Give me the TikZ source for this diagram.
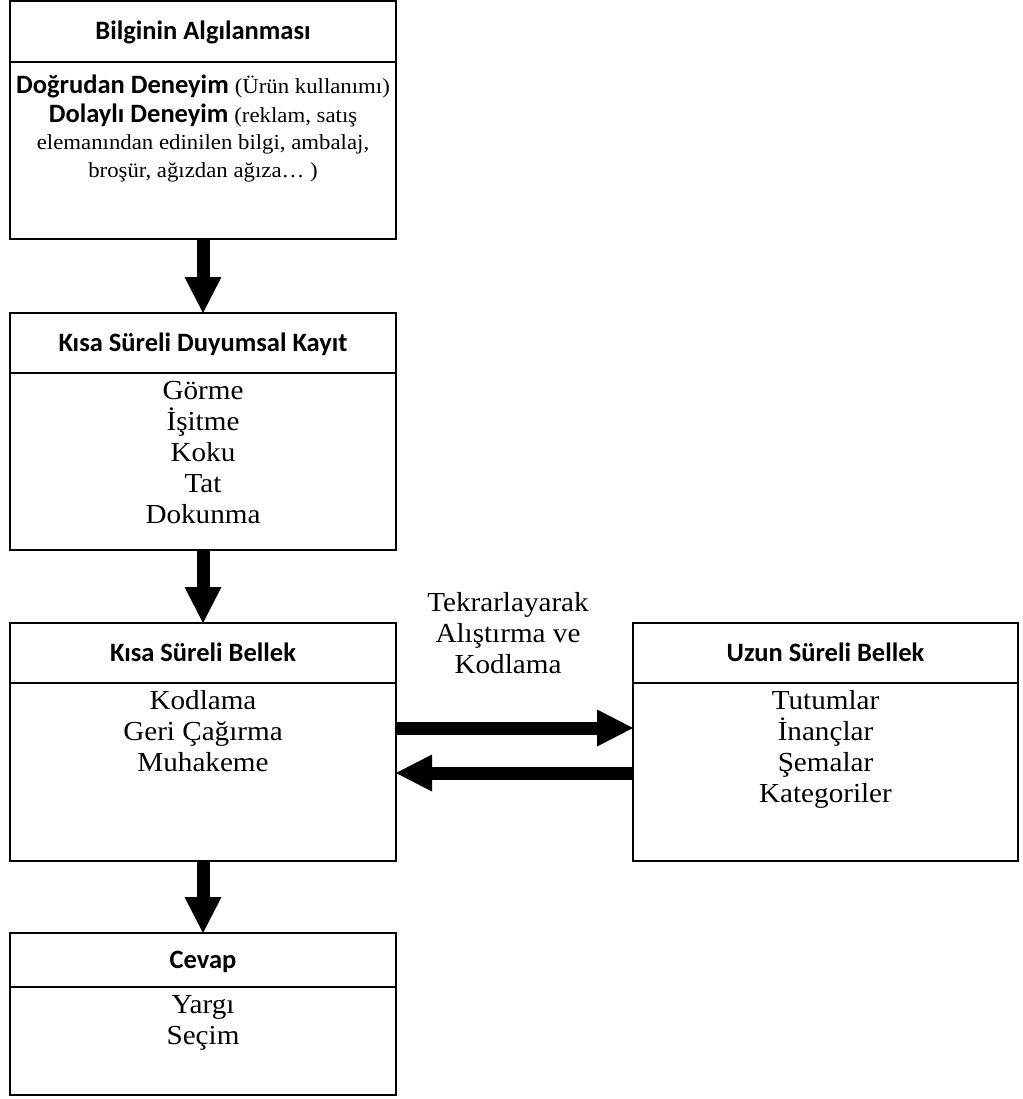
\documentclass[tikz,border=0pt]{standalone}
\usepackage{fontspec}
\setmainfont{Liberation Serif}[FakeStretch=1.06]
\newfontfamily\headfont{Carlito}
\usetikzlibrary{arrows.meta}

\begin{document}
\begin{tikzpicture}[x=1pt,y=-1pt,
  panel/.style={draw, line width=2pt, inner sep=0pt, outer sep=0pt, anchor=north west},
  rule/.style={line width=2pt},
  head/.style={inner sep=0pt, anchor=base, font=\headfont\bfseries\fontsize{26.5}{31}\selectfont},
  item/.style={inner sep=0pt, anchor=base, font=\fontsize{27.5}{31}\selectfont},
  small/.style={inner sep=0pt, anchor=base, font=\fontsize{21.5}{28}\selectfont},
  bigarrow/.style={line width=13pt, -{Triangle[width=37pt,length=36pt,line width=0pt]}}
]
\useasboundingbox (0,0) rectangle (1022,1099);

% boxes
\node[panel, minimum width=386pt, minimum height=238pt] (algi)  at (10,1)   {};
\node[panel, minimum width=386pt, minimum height=237pt] (duyu)  at (10,313) {};
\node[panel, minimum width=386pt, minimum height=238pt] (kisa)  at (10,623) {};
\node[panel, minimum width=385pt, minimum height=238pt] (uzun)  at (633,623) {};
\node[panel, minimum width=386pt, minimum height=162pt] (cevap) at (10,933) {};

% header rules
\draw[rule] ([yshift=-61pt]algi.north west)  -- ([yshift=-61pt]algi.north east);
\draw[rule] ([yshift=-60pt]duyu.north west)  -- ([yshift=-60pt]duyu.north east);
\draw[rule] ([yshift=-60pt]kisa.north west)  -- ([yshift=-60pt]kisa.north east);
\draw[rule] ([yshift=-60pt]uzun.north west)  -- ([yshift=-60pt]uzun.north east);
\draw[rule] ([yshift=-54pt]cevap.north west) -- ([yshift=-54pt]cevap.north east);

% headers
\node[head] (algi-h)  at (203,39.5) {Bilginin Algılanması};
\node[head] (duyu-h)  at (203,351)  {Kısa Süreli Duyumsal Kayıt};
\node[head] (kisa-h)  at (203,661)  {Kısa Süreli Bellek};
\node[head] (uzun-h)  at (825.5,661) {Uzun Süreli Bellek};
\node[head] (cevap-h) at (203,968)  {Cevap};

% perception sources
\node[small] (algi-1) at (203,94)
  {{\headfont\bfseries\fontsize{26.5}{28}\selectfont Doğrudan Deneyim\ }(Ürün kullanımı)};
\node[small] (algi-2) at (203,123)
  {{\headfont\bfseries\fontsize{26.5}{28}\selectfont Dolaylı Deneyim\ }(reklam, satış};
\node[small] (algi-3) at (203,150) {elemanından edinilen bilgi, ambalaj,};
\node[small] (algi-4) at (203,178) {broşür, ağızdan ağıza… )};

% list items
\foreach \t [count=\i from 0] in {Görme, İşitme, Koku, Tat, Dokunma}
  \node[item] (duyu-\i) at (203,399+31*\i) {\t};
\foreach \t [count=\i from 0] in {Kodlama, Geri Çağırma, Muhakeme}
  \node[item] (kisa-\i) at (203,709+31*\i) {\t};
\foreach \t [count=\i from 0] in {Tutumlar, İnançlar, Şemalar, Kategoriler}
  \node[item] (uzun-\i) at (825.5,709+31*\i) {\t};
\foreach \t [count=\i from 0] in {Yargı, Seçim}
  \node[item] (cevap-\i) at (203,1013+31*\i) {\t};

% label between the memories
\node[item] (tekrar-1) at (508,611) {Tekrarlayarak};
\node[item] (tekrar-2) at (508,642) {Alıştırma ve};
\node[item] (tekrar-3) at (508,673) {Kodlama};

% flow arrows
\draw[bigarrow] (algi.south) -- (duyu.north);
\draw[bigarrow] (duyu.south) -- (kisa.north);
\draw[bigarrow] (kisa.south) -- (cevap.north);
\draw[bigarrow] (kisa.east |- 0,728) -- (uzun.west |- 0,728);
\draw[bigarrow] (uzun.west |- 0,773) -- (kisa.east |- 0,773);
\end{tikzpicture}
\end{document}
